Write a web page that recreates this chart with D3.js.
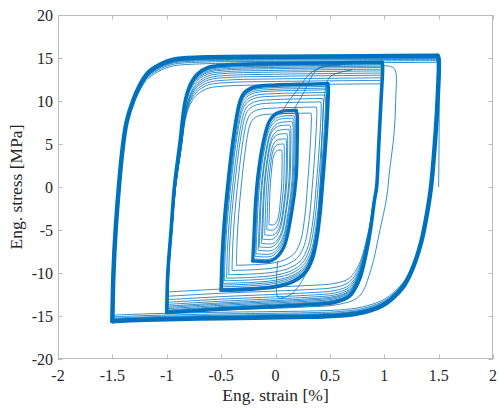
<!DOCTYPE html>
<html>
<head>
<meta charset="utf-8">
<script src="https://cdn.jsdelivr.net/npm/d3@7"></script>
<style>
  body { margin: 0; background: #fff; }
  text { font-family: "Liberation Serif", "Times New Roman", serif; fill: #262626; }
</style>
</head>
<body>
<svg id="chart" width="499" height="410"></svg>
<script>
// Axis ticks
const xTicks = [-2, -1.5, -1, -0.5, 0, 0.5, 1, 1.5, 2];
const yTicks = [-20, -15, -10, -5, 0, 5, 10, 15, 20];

// Stabilised loop branches [strain %, stress MPa]: loading (up) and unloading (down)
const loopA_up = [[-1.50,-15.6],[-1.49,-10],[-1.47,-5],[-1.44,0],[-1.41,4],[-1.37,7.5],[-1.31,10],[-1.24,12],[-1.17,13.3],[-1.05,14.3],[-0.94,14.8],[-0.7,15.05],[0,15.15],[0.8,15.2],[1.49,15.25]];
const loopA_down = [[1.49,15.25],[1.50,14.9],[1.49,10],[1.465,5],[1.43,0],[1.40,-2.6],[1.34,-6.4],[1.26,-9.5],[1.18,-11.5],[1.07,-13],[0.98,-13.8],[0.8,-14.6],[0.6,-14.95],[0.3,-15.1],[-0.5,-15.25],[-1.2,-15.45],[-1.50,-15.6]];

const loopB_up = [[-1.0,-14.6],[-0.99,-10],[-0.96,-5],[-0.93,0],[-0.88,5],[-0.83,10],[-0.78,12],[-0.72,13.1],[-0.62,13.9],[-0.45,14.2],[0,14.35],[0.6,14.45],[0.98,14.5]];
const loopB_down = [[0.98,14.5],[0.985,14.0],[0.97,10],[0.95,5],[0.93,0],[0.91,-1.5],[0.86,-6],[0.77,-10.8],[0.68,-12.7],[0.55,-13.4],[0.3,-13.7],[0,-13.9],[-0.5,-14.2],[-1.0,-14.6]];

const loopC_up = [[-0.5,-12.0],[-0.49,-8],[-0.47,-4],[-0.44,0],[-0.40,4.5],[-0.36,8],[-0.33,9.8],[-0.29,10.9],[-0.2,11.6],[0,11.85],[0.3,11.95],[0.48,12.0]];
const loopC_down = [[0.48,12.0],[0.485,11.5],[0.475,8],[0.455,4],[0.43,0],[0.41,-3],[0.38,-6],[0.34,-8.3],[0.27,-10],[0.16,-11],[0,-11.6],[-0.25,-11.9],[-0.5,-12.0]];

const loopD_up = [[-0.21,-8.6],[-0.2,-6],[-0.185,-2],[-0.165,1],[-0.12,4.8],[-0.06,7.6],[0.0,8.5],[0.06,8.8],[0.19,8.9]];
const loopD_down = [[0.19,8.9],[0.2,8.4],[0.2,4.8],[0.19,1],[0.15,-2.9],[0.08,-6.9],[0.0,-8.3],[-0.06,-8.65],[-0.21,-8.6]];

// Individual cycles of each block: [strain min, strain max, stress min, stress max]
const cyclesA = [[-1.50,1.50,-14.9,14.5],[-1.50,1.50,-15.1,14.7],[-1.50,1.50,-15.25,14.85],[-1.50,1.50,-15.35,14.95],[-1.50,1.50,-15.45,15.05],[-1.50,1.50,-15.5,15.1]];
const cyclesB = [[-0.99,0.98,-12.2,12.0],[-0.99,0.98,-12.7,12.4],[-0.99,0.98,-13.1,12.7],[-0.99,0.98,-13.4,13.0],[-0.99,0.98,-13.65,13.25],[-0.99,0.98,-13.85,13.5],[-1.0,0.98,-14.0,13.7],[-1.0,0.98,-14.15,13.9],[-1.0,0.98,-14.3,14.05],[-1.0,0.98,-14.4,14.2],[-1.0,0.98,-14.5,14.3]];
const cyclesC = [[-0.36,0.33,-9.1,8.6],[-0.40,0.38,-9.7,9.3],[-0.43,0.42,-10.2,9.9],[-0.45,0.44,-10.6,10.3],[-0.47,0.46,-10.9,10.7],[-0.48,0.47,-11.2,11.0],[-0.49,0.475,-11.4,11.3],[-0.50,0.48,-11.6,11.5],[-0.50,0.48,-11.8,11.7]];
const cyclesD = [[-0.06,0.06,-4.4,4.3],[-0.08,0.08,-5.0,5.0],[-0.10,0.10,-5.6,5.6],[-0.12,0.11,-6.1,6.2],[-0.13,0.13,-6.6,6.7],[-0.15,0.14,-7.0,7.2],[-0.16,0.16,-7.4,7.6],[-0.18,0.17,-7.8,8.0],[-0.19,0.18,-8.1,8.3],[-0.20,0.19,-8.4,8.6]];

// Transition paths between blocks and final unloading
const pathFinal = [[1.50,14.9],[1.505,8],[1.50,0]];
const pathExcursion = [[0.98,14.1],[1.06,14.0],[1.10,13.6],[1.105,10],[1.09,6.2],[1.05,2],[1.02,-1.4],[0.96,-5],[0.88,-9.5],[0.77,-12.7],[0.6,-13.6],[0.2,-14.0],[-0.5,-14.3],[-1.0,-14.6]];
const pathRise1 = [[0.06,8.8],[0.14,10.3],[0.22,11.6],[0.31,13.1],[0.43,14.0],[0.7,14.3]];
const pathRise2 = [[0.17,9.0],[0.26,11.0],[0.34,13.0],[0.40,13.8],[0.6,14.1]];
const pathDrop = [[0.02,-8.6],[0.02,-12.8],[0.06,-12.9],[0.15,-12.4],[0.25,-10.8],[0.33,-8],[0.38,-5],[0.41,0],[0.43,6],[0.45,10.5],[0.5,12.8],[0.7,13.6]];

const svg = d3.select("#chart");
const mLeft = 58, mRight = 493, mTop = 15, mBottom = 359;
const x = d3.scaleLinear().domain([-2, 2]).range([mLeft, mRight]);
const y = d3.scaleLinear().domain([-20, 20]).range([mBottom, mTop]);
const color = "#0072BD";

const line = d3.line()
  .x(d => x(d[0])).y(d => y(d[1]))
  .curve(d3.curveCatmullRom.alpha(0.5));

const plot = svg.append("g");
plot.append("clipPath").attr("id", "clip")
  .append("rect").attr("x", mLeft).attr("y", mTop).attr("width", mRight - mLeft).attr("height", mBottom - mTop);
const marks = plot.append("g").attr("clip-path", "url(#clip)");

// Fit a block's loop branches into a cycle's strain/stress extremes
function fitCycle(up, down, c) {
  const all = up.concat(down);
  const sx = d3.extent(all, d => d[0]), sy = d3.extent(all, d => d[1]);
  const fx = d3.scaleLinear().domain(sx).range([c[0], c[1]]);
  const fy = d3.scaleLinear().domain(sy).range([c[2], c[3]]);
  const m = d => [fx(d[0]), fy(d[1])];
  return [up.map(m), down.map(m)];
}

const blocks = [
  { up: loopA_up, down: loopA_down, cycles: cyclesA, w: 4.5 },
  { up: loopB_up, down: loopB_down, cycles: cyclesB, w: 3.6 },
  { up: loopC_up, down: loopC_down, cycles: cyclesC, w: 3.6 },
  { up: loopD_up, down: loopD_down, cycles: cyclesD, w: 3.2 }
];

blocks.forEach(b => {
  b.cycles.forEach(c => {
    fitCycle(b.up, b.down, c).forEach(br => {
      marks.append("path").attr("d", line(br))
        .attr("fill", "none").attr("stroke", color).attr("stroke-width", 0.8);
    });
  });
});

[pathFinal, pathExcursion, pathRise1, pathRise2, pathDrop].forEach(p => {
  marks.append("path").attr("d", line(p))
    .attr("fill", "none").attr("stroke", color).attr("stroke-width", 0.8);
});

blocks.forEach(b => {
  [b.up, b.down].forEach(br => {
    marks.append("path").attr("d", line(br))
      .attr("fill", "none").attr("stroke", color)
      .attr("stroke-width", b.w).attr("stroke-linejoin", "round").attr("stroke-linecap", "round");
  });
});

// Axes box with inward ticks on all sides
const axisColor = "#bcbcbc";
const tl = 4.5;
const ax = svg.append("g").attr("stroke", axisColor).attr("stroke-width", 1).attr("fill", "none");
ax.append("rect").attr("x", mLeft + 0.5).attr("y", mTop + 0.5)
  .attr("width", mRight - mLeft - 1).attr("height", mBottom - mTop - 1);
xTicks.forEach(t => {
  const px = Math.round(x(t)) + 0.5;
  ax.append("line").attr("x1", px).attr("x2", px).attr("y1", mBottom).attr("y2", mBottom - tl);
  ax.append("line").attr("x1", px).attr("x2", px).attr("y1", mTop).attr("y2", mTop + tl);
});
yTicks.forEach(t => {
  const py = Math.round(y(t)) + 0.5;
  ax.append("line").attr("x1", mLeft).attr("x2", mLeft + tl).attr("y1", py).attr("y2", py);
  ax.append("line").attr("x1", mRight).attr("x2", mRight - tl).attr("y1", py).attr("y2", py);
});

const fs = 16, lfs = 17.5;
svg.append("g").selectAll("text").data(xTicks).join("text")
  .attr("x", d => x(d)).attr("y", 381).attr("text-anchor", "middle")
  .attr("font-size", fs).text(d => String(d));
svg.append("g").selectAll("text").data(yTicks).join("text")
  .attr("x", 53).attr("y", d => y(d) + 5.5).attr("text-anchor", "end")
  .attr("font-size", fs).text(d => String(d));

svg.append("text").attr("x", x(0)).attr("y", 401).attr("text-anchor", "middle")
  .attr("font-size", lfs).text("Eng. strain [%]");
svg.append("text").attr("transform", `translate(22,${y(0)}) rotate(-90)`)
  .attr("text-anchor", "middle").attr("font-size", lfs).text("Eng. stress [MPa]");
</script>
</body>
</html>
